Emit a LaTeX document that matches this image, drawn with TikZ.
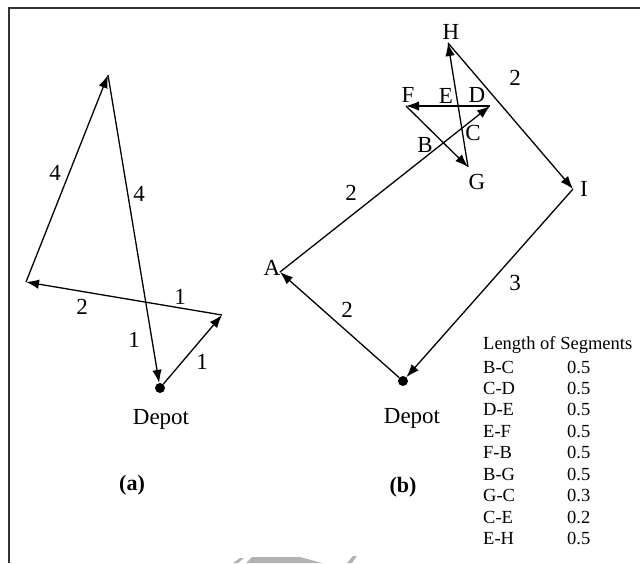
\documentclass[tikz,border=0pt]{standalone}
\usepackage{fontspec}
\setmainfont{Liberation Serif}
\usetikzlibrary{arrows.meta}
\begin{document}
\begin{tikzpicture}[x=1pt,y=-1pt,
  edge/.style={line width=1.3pt, -{Latex[length=13pt,width=9.5pt]}},
  lbl/.style={font=\fontsize{23}{27}\selectfont, inner sep=0pt},
  captext/.style={font=\fontsize{22}{26}\selectfont\bfseries, inner sep=0pt},
  tab/.style={font=\fontsize{18.5}{21}\selectfont, inner sep=0pt, anchor=west},
  depotdot/.style={circle, fill=black, inner sep=0pt, minimum size=10pt}]
\useasboundingbox (0,0) rectangle (640,563);
\draw[line width=1.3pt, black!80] (9,563) -- (9,8) -- (640,8);
% faint watermark fragment
\fill[black!30] (233,563) -- (240,558) -- (244,558) -- (238,563) -- cycle;
\fill[black!30] (246,563) -- (252,557) -- (300,557) -- (322,563) -- cycle;
\fill[black!30] (347,563) -- (353,556) -- (357,556) -- (352,563) -- cycle;
% ---------- panel (a)
\coordinate (aT) at (108,75);
\coordinate (aL) at (26,282);
\coordinate (aR) at (222,315);
\node[depotdot] (aD) at (160,388) {};
\draw[edge] (aD) -- (aR);
\draw[edge] (aR) -- (aL);
\draw[edge] (aL) -- (aT);
\draw[edge] (aT) -- (aD);
\node[lbl] (la1) at (55,173) {4};
\node[lbl] (la2) at (139,194) {4};
\node[lbl] (la3) at (82,307) {2};
\node[lbl] (la4) at (180,297) {1};
\node[lbl] (la5) at (134,340) {1};
\node[lbl] (la6) at (202,362) {1};
\node[lbl] (adepot) at (161,419) {Depot};
\node[captext] (acap) at (132,485) {(a)};
% ---------- panel (b)
\node[depotdot] (bD) at (403,381) {};
\coordinate (A) at (280,272);
\coordinate (D) at (490,106);
\coordinate (F) at (406,106);
\coordinate (G) at (468,167);
\coordinate (H) at (448,43);
\coordinate (I) at (573,189);
\draw[edge] (bD) -- (A);
\draw[edge] (A) -- (D);
\draw[edge] (D) -- (F);
\draw[edge] (F) -- (G);
\draw[edge] (G) -- (H);
\draw[edge] (H) -- (I);
\draw[edge] (I) -- (bD);
\node[lbl] (lA) at (272,268) {A};
\node[lbl] (lH) at (451,32) {H};
\node[lbl] (lF) at (408,95) {F};
\node[lbl] (lE) at (446,96) {E};
\node[lbl] (lD) at (477,95) {D};
\node[lbl] (lC) at (473,133) {C};
\node[lbl] (lB) at (425,145) {B};
\node[lbl] (lG) at (477,182) {G};
\node[lbl] (lI) at (584,189) {I};
\node[lbl] (lb1) at (515,78) {2};
\node[lbl] (lb2) at (351,193) {2};
\node[lbl] (lb3) at (347,310) {2};
\node[lbl] (lb4) at (515,283) {3};
\node[lbl] (bdepot) at (412,418) {Depot};
\node[captext] (bcap) at (403,487) {(b)};
% ---------- table
\node[tab] (th) at (483,345) {Length of Segments};
\node[tab] (r1) at (483,367) {B-C};  \node[tab] (v1) at (567,367) {0.5};
\node[tab] (r2) at (483,388) {C-D};  \node[tab] (v2) at (567,388) {0.5};
\node[tab] (r3) at (483,409) {D-E};  \node[tab] (v3) at (567,409) {0.5};
\node[tab] (r4) at (483,431) {E-F};  \node[tab] (v4) at (567,431) {0.5};
\node[tab] (r5) at (483,452) {F-B};  \node[tab] (v5) at (567,452) {0.5};
\node[tab] (r6) at (483,474) {B-G};  \node[tab] (v6) at (567,474) {0.5};
\node[tab] (r7) at (483,495) {G-C};  \node[tab] (v7) at (567,495) {0.3};
\node[tab] (r8) at (483,517) {C-E};  \node[tab] (v8) at (567,517) {0.2};
\node[tab] (r9) at (483,538) {E-H};  \node[tab] (v9) at (567,538) {0.5};
\end{tikzpicture}
\end{document}
